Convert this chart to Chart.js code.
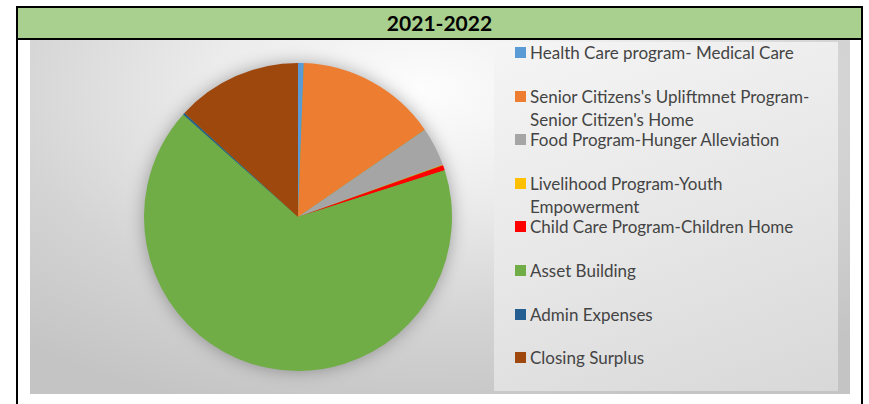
<!DOCTYPE html>
<html>
<head>
<meta charset="utf-8">
<script src="https://cdn.jsdelivr.net/npm/chart.js@4.4.1/dist/chart.umd.min.js"></script>
<style>
    body { margin: 0; width: 869px; height: 404px; background: #fff; overflow: hidden; font-family: Lato, "Open Sans", sans-serif; }
    #marco { position: absolute; left: 16px; top: 6px; width: 843px; height: 410px; border-left: 2px solid #000; border-right: 2px solid #000; }
    #titulo { position: absolute; left: 16px; top: 6px; width: 843px; height: 30px; background: #a9d08e; border: 2px solid #000;
              box-sizing: content-box; text-align: center; font: bold 21px Lato, "Liberation Sans", sans-serif; line-height: 30px; color: #000; }
    #fondo { position: absolute; left: 30px; top: 40px; width: 820px; height: 354px;
             background: radial-gradient(ellipse 75% 95% at 48% 14%, #fdfdfd 0%, #ebebeb 35%, #d4d4d4 68%, #c4c4c4 100%); }
    #leyendaCaja { position: absolute; left: 494px; top: 42px; width: 344px; height: 349px;
                   background: linear-gradient(160deg, #f5f5f5 0%, #e6e6e6 55%, #d8d8d8 100%); }
    #grafico { position: absolute; left: 124px; top: 43px; width: 348px; height: 348px; }
    #leyenda { position: absolute; left: 515px; top: 41px; width: 330px; }
    .item { height: 43.6px; position: relative; padding-left: 15px; font-size: 17px; line-height: 23px; color: #444; white-space: nowrap; }
    .item span { position: absolute; left: 0; top: 6px; width: 11px; height: 11px; }
</style>
</head>
<body>
<div id="marco"></div>
<div id="titulo">2021-2022</div>
<div id="fondo"></div>
<div id="leyendaCaja"></div>
<div id="grafico"><canvas id="canvasPie"></canvas></div>
<div id="leyenda"></div>

<script>
// Datos (porcentaje del total, estimado)
const categorias = [
    'Health Care program- Medical Care',
    ["Senior Citizens's Upliftmnet Program-", "Senior Citizen's Home"],
    'Food Program-Hunger Alleviation',
    ['Livelihood Program-Youth', 'Empowerment'],
    'Child Care Program-Children Home',
    'Asset Building',
    'Admin Expenses',
    'Closing Surplus'
];
const valores = [0.6, 14.8, 4.1, 0.05, 0.55, 66.5, 0.2, 13.2];
const colores = ['#5b9bd5', '#ed7d31', '#a5a5a5', '#ffc000', '#ff0000', '#70ad47', '#255e91', '#9e480e'];

// Sombra suave detrás del pastel
const sombraPie = {
    id: 'sombraPie',
    beforeDatasetsDraw(chart) {
        const arco = chart.getDatasetMeta(0).data[0];
        if (!arco) return;
        const ctx = chart.ctx;
        ctx.save();
        ctx.shadowColor = 'rgba(0,0,0,0.35)';
        ctx.shadowBlur = 18;
        ctx.beginPath();
        ctx.arc(arco.x, arco.y, arco.outerRadius - 1, 0, Math.PI * 2);
        ctx.fillStyle = '#70ad47';
        ctx.fill();
        ctx.restore();
    }
};

const ctx = document.getElementById('canvasPie').getContext('2d');
const chartPie = new Chart(ctx, {
    type: 'pie',
    data: {
        labels: categorias,
        datasets: [{
            data: valores,
            backgroundColor: colores,
            borderWidth: 0
        }]
    },
    options: {
        responsive: true,
        maintainAspectRatio: false,
        animation: false,
        events: [],
        layout: { padding: 20 },
        plugins: {
            legend: { display: false },
            tooltip: { enabled: false }
        }
    },
    plugins: [sombraPie]
});

// Leyenda en HTML a partir de los mismos arrays
const leyenda = document.getElementById('leyenda');
categorias.forEach((cat, i) => {
    const div = document.createElement('div');
    div.className = 'item';
    const texto = Array.isArray(cat) ? cat.join('<br>') : cat;
    div.innerHTML = `<span style="background:${colores[i]}"></span>${texto}`;
    leyenda.appendChild(div);
});
</script>
</body>
</html>
